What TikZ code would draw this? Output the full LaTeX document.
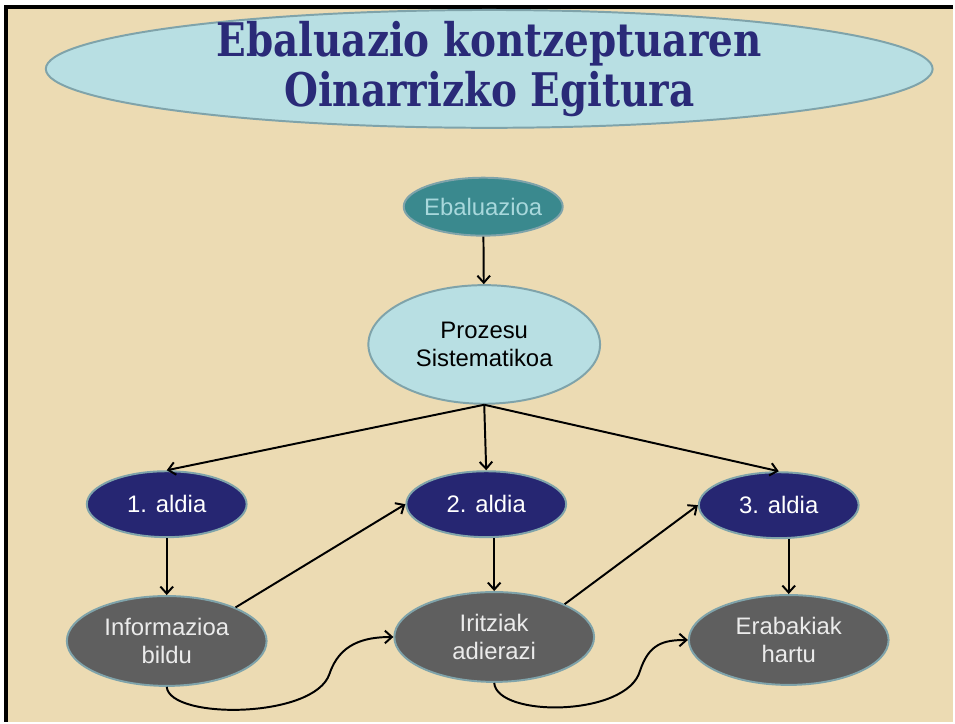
\documentclass[tikz,border=0pt]{standalone}
\usepackage{fontspec}
\setmainfont{Liberation Sans}
\newfontfamily\titlefont{DejaVu Serif}[FakeStretch=0.84]
\usetikzlibrary{shapes.geometric,arrows.meta}
\definecolor{sandbg}{HTML}{ECDBB3}
\definecolor{paleblue}{HTML}{B8DFE3}
\definecolor{rimblue}{HTML}{7FA3AA}
\definecolor{tealfill}{HTML}{3A898E}
\definecolor{tealtext}{HTML}{A8D8DC}
\definecolor{navyfill}{HTML}{262672}
\definecolor{greyfill}{HTML}{5F5F5F}
\definecolor{titlenavy}{HTML}{2A2A78}
\begin{document}
\begin{tikzpicture}[x=0.025cm,y=-0.025cm,
    oval/.style={ellipse,draw=rimblue,line width=1.4pt,inner sep=0pt,
      align=center,font=\fontsize{17}{20}\selectfont},
    toptitle/.style={oval,fill=paleblue,minimum width=22.2cm,minimum height=2.95cm,
      inner ysep=-8pt,text=titlenavy,font=\titlefont\bfseries\fontsize{33}{36}\selectfont},
    rootoval/.style={oval,fill=tealfill,text=tealtext,inner xsep=-4pt,
      minimum width=3.98cm,minimum height=1.45cm},
    procoval/.style={oval,fill=paleblue,text=black,minimum width=5.8cm,minimum height=2.97cm},
    phaseoval/.style={oval,fill=navyfill,text=white,minimum width=4cm,minimum height=1.65cm},
    actoval/.style={oval,fill=greyfill,text=white!92!black,minimum width=5cm,minimum height=2.25cm},
    link/.style={-{Straight Barb[length=5pt,width=9pt]},line width=1.4pt}]
  \fill[white] (0,0) rectangle (955,723);
  \fill[sandbg] (6,7) rectangle (955,723);
  \draw[line width=2.2pt] (6,723) -- (6,7) -- (955,7);
  \draw
    (490,69) node[toptitle] (title){Ebaluazio kontzeptuaren\\Oinarrizko Egitura}
    (484,207) node[rootoval] (eval){Ebaluazioa}
    (485,345) node[procoval] (proc){Prozesu\\Sistematikoa}
    (167,505) node[phaseoval] (ph1){1. aldia}
    (487,505) node[phaseoval] (ph2){2. aldia}
    (780,506) node[phaseoval] (ph3){3. aldia}
    (167,642) node[actoval] (bildu){Informazioa\\bildu}
    (495,638) node[actoval] (adierazi){Iritziak\\adierazi}
    (790,641) node[actoval] (hartu){Erabakiak\\hartu};
  \coordinate (bend1) at (330,675);
  \coordinate (bend2) at (641,672);
  \begin{scope}[link]
    \draw (eval) to (proc);
    \draw (proc.south) to (ph1.north);
    \draw (proc.south) to (ph2.north);
    \draw (proc.south) to (ph3.north);
    \draw (ph1) to (bildu);
    \draw (adierazi.north |- ph2.south) to (adierazi.north);
    \draw (hartu.north |- ph3.south) to (hartu.north);
    \draw (bildu.26) to (ph2.west);
    \draw (adierazi.25) to (ph3.west);
    \draw (bildu.south) .. controls +(3,33) and +(-15,45) .. (bend1)
      .. controls +(10,-30) and +(-30,0) .. (adierazi.west);
    \draw (adierazi.south) .. controls +(3,35) and +(-13,46) .. (bend2)
      .. controls +(9,-27) and +(-25,0) .. (hartu.west);
  \end{scope}
\end{tikzpicture}
\end{document}
